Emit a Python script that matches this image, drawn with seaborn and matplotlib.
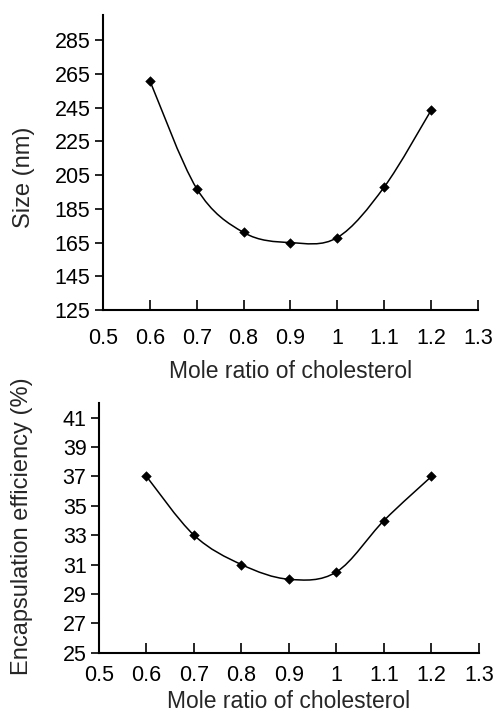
import numpy as np
import pandas as pd
import matplotlib
matplotlib.use("Agg")
import matplotlib.pyplot as plt
from matplotlib.path import Path
from matplotlib.patches import PathPatch
import seaborn as sns

# data
ratio = [0.6, 0.7, 0.8, 0.9, 1.0, 1.1, 1.2]
size_nm = [261, 197, 171, 165, 168, 198, 243.5]
encaps = [37, 33, 31, 30, 30.5, 34, 37]

xticks = [0.5, 0.6, 0.7, 0.8, 0.9, 1.0, 1.1, 1.2, 1.3]
xticklabels = ["0.5", "0.6", "0.7", "0.8", "0.9", "1", "1.1", "1.2", "1.3"]
size_ticks = list(range(125, 286, 20))
ee_ticks = list(range(25, 42, 2))

sns.set_style("ticks")
plt.rcParams["font.family"] = ["Liberation Sans", "DejaVu Sans"]


def smooth_path(x, y):
    # excel-like smoothed line: cubic bezier between each pair of points
    x = np.asarray(x, float)
    y = np.asarray(y, float)
    n = len(x)
    verts = [(x[0], y[0])]
    codes = [Path.MOVETO]
    for i in range(n - 1):
        i0 = max(i - 1, 0)
        i3 = min(i + 2, n - 1)
        c1 = (x[i] + (x[i + 1] - x[i0]) / 6, y[i] + (y[i + 1] - y[i0]) / 6)
        c2 = (x[i + 1] - (x[i3] - x[i]) / 6, y[i + 1] - (y[i3] - y[i]) / 6)
        verts += [c1, c2, (x[i + 1], y[i + 1])]
        codes += [Path.CURVE4] * 3
    return Path(verts, codes)


def draw(ax, yvals, ylim, yticks, ylabel, xpad, xlpad, ylab_xy):
    df = pd.DataFrame({"x": ratio, "y": yvals})
    ax.add_patch(PathPatch(smooth_path(df["x"], df["y"]), fill=False,
                           edgecolor="black", linewidth=1.1))
    sns.scatterplot(data=df, x="x", y="y", marker="D", s=24, color="black",
                    edgecolor="black", ax=ax, zorder=3)
    ax.set_xlim(0.5, 1.3)
    ax.set_ylim(*ylim)
    ax.set_xticks(xticks)
    ax.set_xticklabels(xticklabels)
    ax.set_yticks(yticks)
    ax.set_xlabel("Mole ratio of cholesterol", fontsize=16.5, labelpad=xlpad)
    ax.set_ylabel(ylabel, fontsize=17)
    ax.yaxis.set_label_coords(*ylab_xy)
    for s in ["top", "right"]:
        ax.spines[s].set_visible(False)
    for s in ["left", "bottom"]:
        ax.spines[s].set_linewidth(1.5)
        ax.spines[s].set_color("black")
    ax.tick_params(axis="y", direction="out", length=6, width=1.2,
                   labelsize=15.5, pad=3, colors="black")
    ax.tick_params(axis="x", direction="in", length=7, width=1.2,
                   labelsize=15.5, pad=xpad, colors="black")


fig = plt.figure(figsize=(4.94, 7.15), dpi=100)
ax1 = fig.add_axes([0.2085, 0.5664, 0.7591, 0.4126])
ax2 = fig.add_axes([0.2004, 0.0871, 0.7692, 0.3493])

draw(ax1, size_nm, (125, 300), size_ticks, "Size (nm)", 13, 8, (-0.18, 0.45))
draw(ax2, encaps, (25, 42), ee_ticks, "Encapsulation efficiency (%)", 9, 3,
     (-0.175, 0.505))

fig.savefig("out.png", dpi=100)
